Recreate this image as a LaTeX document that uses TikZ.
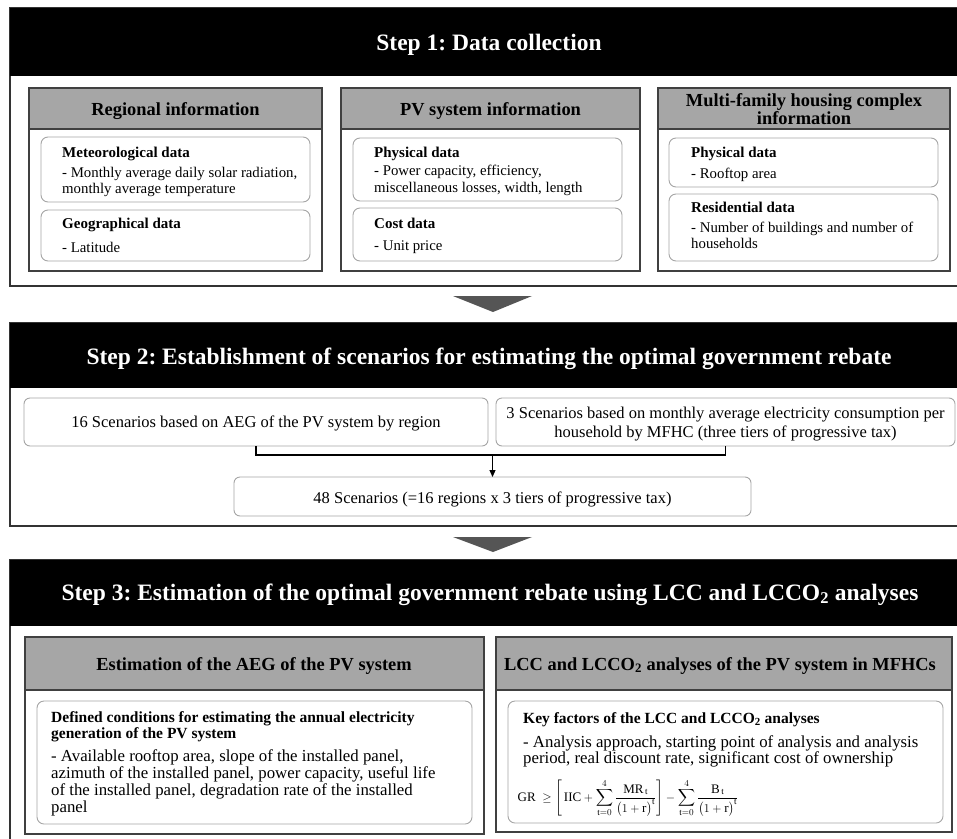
\documentclass[tikz,border=0pt]{standalone}
\usepackage{amsmath}
\usepackage{fontspec}
\setmainfont{Liberation Serif}
\usetikzlibrary{arrows.meta}
\definecolor{hdgray}{RGB}{166,166,166}
\definecolor{trigray}{RGB}{85,85,85}
\definecolor{rline}{RGB}{165,165,165}
\frenchspacing
\begin{document}
\frenchspacing
\begin{tikzpicture}[x=1pt,y=-1pt,
  steptitle/.style={text=white, font=\bfseries\fontsize{23.5}{26}\selectfont, inner sep=0, anchor=base},
  subtitle/.style={font=\bfseries\fontsize{18.4}{20}\selectfont, inner sep=0, anchor=base},
  hd/.style={font=\bfseries\fontsize{15}{17}\selectfont, inner sep=0, anchor=base west},
  bd/.style={font=\fontsize{14.8}{17}\selectfont, inner sep=0, anchor=base west},
  bdc/.style={font=\fontsize{16.5}{19}\selectfont, inner sep=0, anchor=base},
  hdb/.style={font=\bfseries\fontsize{15.5}{17}\selectfont, inner sep=0, anchor=base west},
  bdb/.style={font=\fontsize{16.8}{19}\selectfont, inner sep=0, anchor=base west},
  stepframe/.style={draw=black!80, line width=1.4pt},
  subbox/.style={draw=black!75, line width=1.1pt},
  subhd/.style={fill=hdgray, draw=black!75, line width=1.1pt},
  rbox/.style={draw=rline, line width=0.9pt, rounded corners=7pt},
  sbox/.style={draw=rline, line width=0.9pt, rounded corners=6pt, inner sep=0, outer sep=0, anchor=north west},
  link/.style={line width=1.1pt, draw=black}
]
\useasboundingbox (0,0) rectangle (957,838);
\fill[white] (0,0) rectangle (957,838);

% ---------- Step 1 ----------
\draw[stepframe] (10,8) rectangle (962,286);
\fill[black] (10,8) rectangle (962,76);
\node[steptitle] (t1) at (489,50) {Step 1: Data collection};

\draw[subbox] (29,88) rectangle (322,271);
\draw[subhd] (29,88) rectangle (322,129);
\node[subtitle] (r0) at (175.5,115) {Regional information};
\draw[rbox] (41,137) rectangle (310,202);
\node[hd] (m1) at (62,157) {Meteorological data};
\node[bd] (m2) at (62,177) {- Monthly average daily solar radiation,};
\node[bd] (m3) at (62,193) {monthly average temperature};
\draw[rbox] (41,210) rectangle (310,261);
\node[hd] (g1) at (62,228) {Geographical data};
\node[bd] (g2) at (62,252) {- Latitude};

\draw[subbox] (341,88) rectangle (640,271);
\draw[subhd] (341,88) rectangle (640,129);
\node[subtitle] (p0) at (490.5,115) {PV system information};
\draw[rbox] (353,138) rectangle (622,201);
\node[hd] (p1) at (374,157) {Physical data};
\node[bd] (p2) at (374,175) {- Power capacity, efficiency,};
\node[bd] (p3) at (374,192) {miscellaneous losses, width, length};
\draw[rbox] (353,208) rectangle (622,261);
\node[hd] (c1) at (374,228) {Cost data};
\node[bd] (c2) at (374,250) {- Unit price};

\draw[subbox] (658,88) rectangle (950,271);
\draw[subhd] (658,88) rectangle (950,129);
\node[subtitle] (f0) at (804,106) {Multi-family housing complex};
\node[subtitle] (f0b) at (804,124) {information};
\draw[rbox] (669,138) rectangle (938,187);
\node[hd] (f1) at (691,157) {Physical data};
\node[bd] (f2) at (691,178) {- Rooftop area};
\draw[rbox] (669,194) rectangle (938,261);
\node[hd] (f3) at (691,212) {Residential data};
\node[bd] (f4) at (691,232) {- Number of buildings and number of};
\node[bd] (f5) at (691,248) {households};

\fill[trigray] (453,296) -- (532,296) -- (493,312) -- cycle;

% ---------- Step 2 ----------
\draw[stepframe] (10,323) rectangle (962,526);
\fill[black] (10,323) rectangle (962,388);
\node[steptitle] (t2) at (489,364) {Step 2: Establishment of scenarios for estimating the optimal government rebate};

\node[sbox, minimum width=464pt, minimum height=48pt] (b16) at (24,398) {};
\node[bdc] (b16t) at (256,427) {16 Scenarios based on AEG of the PV system by region};
\node[sbox, minimum width=459pt, minimum height=48pt] (b3) at (496,398) {};
\node[bdc] (b3t) at (725.5,418) {3 Scenarios based on monthly average electricity consumption per};
\node[bdc] (b3u) at (725.5,437) {household by MFHC (three tiers of progressive tax)};
\node[sbox, minimum width=517pt, minimum height=39pt] (b48) at (234,477) {};
\node[bdc] (b48t) at (492.5,503) {48 Scenarios (=16 regions x 3 tiers of progressive tax)};
\coordinate (j) at (b48.north |- 0,455);
\draw[link] (b16.south) |- (j) -| (b3.south);
\draw[link, -{Triangle[length=7pt,width=6pt]}] (j) -- (b48.north);

\fill[trigray] (453,537) -- (532,537) -- (493,552) -- cycle;

% ---------- Step 3 ----------
\draw[stepframe] (10,560) rectangle (962,850);
\fill[black] (10,560) rectangle (962,626);
\node[steptitle] (t3) at (490,600) {Step 3: Estimation of the optimal government rebate using LCC and LCCO\textsubscript{2} analyses};

\draw[subbox] (25,637) rectangle (484,834);
\draw[subhd] (25,637) rectangle (484,690);
\node[subtitle] (e0) at (254,670) {Estimation of the AEG of the PV system};
\draw[rbox] (37,701) rectangle (472,824);
\node[hdb] (e1) at (51,722) {Defined conditions for estimating the annual electricity};
\node[hdb] (e2) at (51,738) {generation of the PV system};
\node[bdb] (e3) at (51,761) {- Available rooftop area, slope of the installed panel,};
\node[bdb] (e4) at (51,778) {azimuth of the installed panel, power capacity, useful life};
\node[bdb] (e5) at (51,795) {of the installed panel, degradation rate of the installed};
\node[bdb] (e6) at (51,812) {panel};

\draw[subbox] (496,637) rectangle (952,832);
\draw[subhd] (496,637) rectangle (952,690);
\node[subtitle] (l0) at (720,670) {LCC and LCCO\textsubscript{2} analyses of the PV system in MFHCs};
\draw[rbox] (508,701) rectangle (943,823);
\node[hdb] (l1) at (523,723) {Key factors of the LCC and LCCO\textsubscript{2} analyses};
\node[bdb] (l2) at (523,747) {- Analysis approach, starting point of analysis and analysis};
\node[bdb] (l3) at (523,763) {period, real discount rate, significant cost of ownership};
\node[font=\fontsize{13}{15}\selectfont, inner sep=0] (eq) at (628,798)
  {$\displaystyle \mathrm{GR}\ \geq \left[\,\mathrm{IIC} + \sum_{\mathrm{t}=0}^{4}\frac{\mathrm{MR}_{\,\mathrm{t}}}{\bigl(1+\mathrm{r}\bigr)^{\mathrm{t}}}\right] - \sum_{\mathrm{t}=0}^{4}\frac{\mathrm{B}_{\,\mathrm{t}}}{\bigl(1+\mathrm{r}\bigr)^{\mathrm{t}}}$};
\end{tikzpicture}
\end{document}
